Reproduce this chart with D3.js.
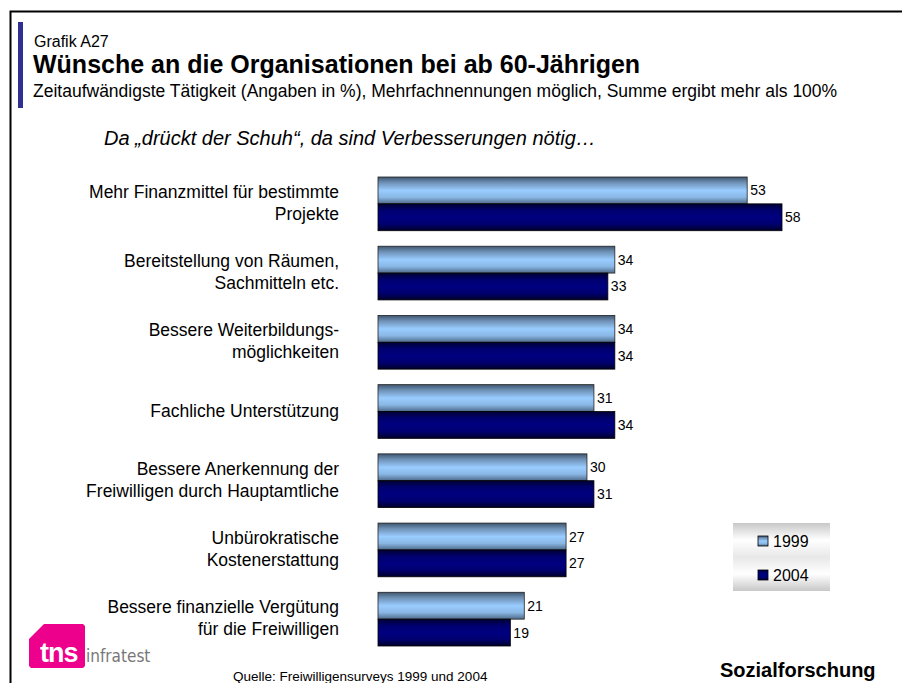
<!DOCTYPE html>
<html><head><meta charset="utf-8">
<script src="https://cdn.jsdelivr.net/npm/d3@7"></script>
<style>body{margin:0;background:#fff;} svg{display:block;font-family:"Liberation Sans",Arial,sans-serif;}</style>
</head><body>
<script>
const categories = [
  ["Mehr Finanzmittel für bestimmte","Projekte"],
  ["Bereitstellung von Räumen,","Sachmitteln etc."],
  ["Bessere Weiterbildungs-","möglichkeiten"],
  ["Fachliche Unterstützung"],
  ["Bessere Anerkennung der","Freiwilligen durch Hauptamtliche"],
  ["Unbürokratische","Kostenerstattung"],
  ["Bessere finanzielle Vergütung","für die Freiwilligen"]
];
const series1999 = [53,34,34,31,30,27,21];
const series2004 = [58,33,34,34,31,27,19];
const seriesNames = ["1999","2004"];

const W=902,H=683;
const svg=d3.select("body").append("svg").attr("width",W).attr("height",H);
const defs=svg.append("defs");
const g1=defs.append("linearGradient").attr("id","gLight").attr("x1",0).attr("y1",0).attr("x2",0).attr("y2",1);
[[0,"#3e5670"],[0.2,"#6d8fb3"],[0.5,"#99ccff"],[0.75,"#8ab8e6"],[1,"#4f6a88"]].forEach(s=>g1.append("stop").attr("offset",s[0]).attr("stop-color",s[1]));
const g2=defs.append("linearGradient").attr("id","gDark").attr("x1",0).attr("y1",0).attr("x2",0).attr("y2",1);
[[0,"#000033"],[0.25,"#000070"],[0.5,"#000080"],[0.75,"#000070"],[1,"#00002a"]].forEach(s=>g2.append("stop").attr("offset",s[0]).attr("stop-color",s[1]));
const gl=defs.append("linearGradient").attr("id","gLeg").attr("x1",0).attr("y1",0).attr("x2",0).attr("y2",1);
[[0,"#c8c8c8"],[0.25,"#ffffff"],[0.5,"#e8e8e8"],[0.75,"#ffffff"],[1,"#c8c8c8"]].forEach(s=>gl.append("stop").attr("offset",s[0]).attr("stop-color",s[1]));

// frame
svg.append("path").attr("d","M10.5,"+H+" V11.5 H"+W).attr("fill","none").attr("stroke","#000").attr("stroke-width",2);
// accent bar
svg.append("rect").attr("x",18).attr("y",22).attr("width",5).attr("height",86).attr("fill","#2e3192");
svg.append("text").attr("x",34).attr("y",47).attr("font-size",16).text("Grafik A27");
svg.append("text").attr("x",33).attr("y",73).attr("font-size",25).attr("font-weight","bold").text("Wünsche an die Organisationen bei ab 60-Jährigen");
svg.append("text").attr("x",33).attr("y",97).attr("font-size",17.5).text("Zeitaufwändigste Tätigkeit (Angaben in %), Mehrfachnennungen möglich, Summe ergibt mehr als 100%");
svg.append("text").attr("x",104).attr("y",145).attr("font-size",20).attr("font-style","italic").text("Da „drückt der Schuh“, da sind Verbesserungen nötig…");

const x=d3.scaleLinear().domain([0,58]).range([378,782]);
const y=d3.scaleBand().domain(d3.range(categories.length)).range([177,646]).paddingInner(0.224).paddingOuter(0);
const bh=y.bandwidth()/2;

const grp=svg.selectAll("g.cat").data(categories).join("g").attr("class","cat");
grp.append("rect").attr("x",x(0)).attr("y",(d,i)=>y(i)).attr("width",(d,i)=>x(series1999[i])-x(0)).attr("height",bh)
  .attr("fill","url(#gLight)").attr("stroke","#222").attr("stroke-width",0.8);
grp.append("rect").attr("x",x(0)).attr("y",(d,i)=>y(i)+bh).attr("width",(d,i)=>x(series2004[i])-x(0)).attr("height",bh)
  .attr("fill","url(#gDark)").attr("stroke","#000").attr("stroke-width",0.8);
grp.append("text").attr("x",(d,i)=>x(series1999[i])+3).attr("y",(d,i)=>y(i)+bh/2+5).attr("font-size",14).text((d,i)=>series1999[i]);
grp.append("text").attr("x",(d,i)=>x(series2004[i])+3).attr("y",(d,i)=>y(i)+bh*1.5+5).attr("font-size",14).text((d,i)=>series2004[i]);
grp.each(function(d,i){
  const t=d3.select(this).append("text").attr("text-anchor","end").attr("font-size",17.5);
  const cy=y(i)+bh;
  const n=d.length;
  d.forEach((line,k)=>{
    t.append("tspan").attr("x",339).attr("y",cy+5+(k-(n-1)/2)*22).text(line);
  });
});

// legend
const leg=svg.append("g");
leg.append("rect").attr("x",733).attr("y",523).attr("width",97).attr("height",68).attr("fill","url(#gLeg)");
seriesNames.forEach((s,k)=>{
  const yy=k===0?541:575;
  leg.append("rect").attr("x",758).attr("y",yy-5).attr("width",10).attr("height",10)
    .attr("fill",k===0?"url(#gLight)":"url(#gDark)").attr("stroke","#000").attr("stroke-width",0.8);
  leg.append("text").attr("x",773).attr("y",yy+6).attr("font-size",16).text(s);
});

// logo
svg.append("path").attr("d","M44,624 H83 L85,626 V666 L83,668 H31 L29,666 V639 Z").attr("fill","#ec008c");
svg.append("text").attr("x",40).attr("y",662).attr("font-size",27).attr("font-weight","bold").attr("fill","#fff").attr("letter-spacing",-1).text("tns");
svg.append("text").attr("x",86).attr("y",662).attr("font-size",17).attr("fill","#777").attr("font-family","'Liberation Sans Narrow','DejaVu Sans Condensed',sans-serif").text("infratest");

svg.append("text").attr("x",233).attr("y",681).attr("font-size",13.5).text("Quelle: Freiwilligensurveys 1999 und 2004");
svg.append("text").attr("x",720).attr("y",677).attr("font-size",20).attr("font-weight","bold").text("Sozialforschung");
</script>
</body></html>
